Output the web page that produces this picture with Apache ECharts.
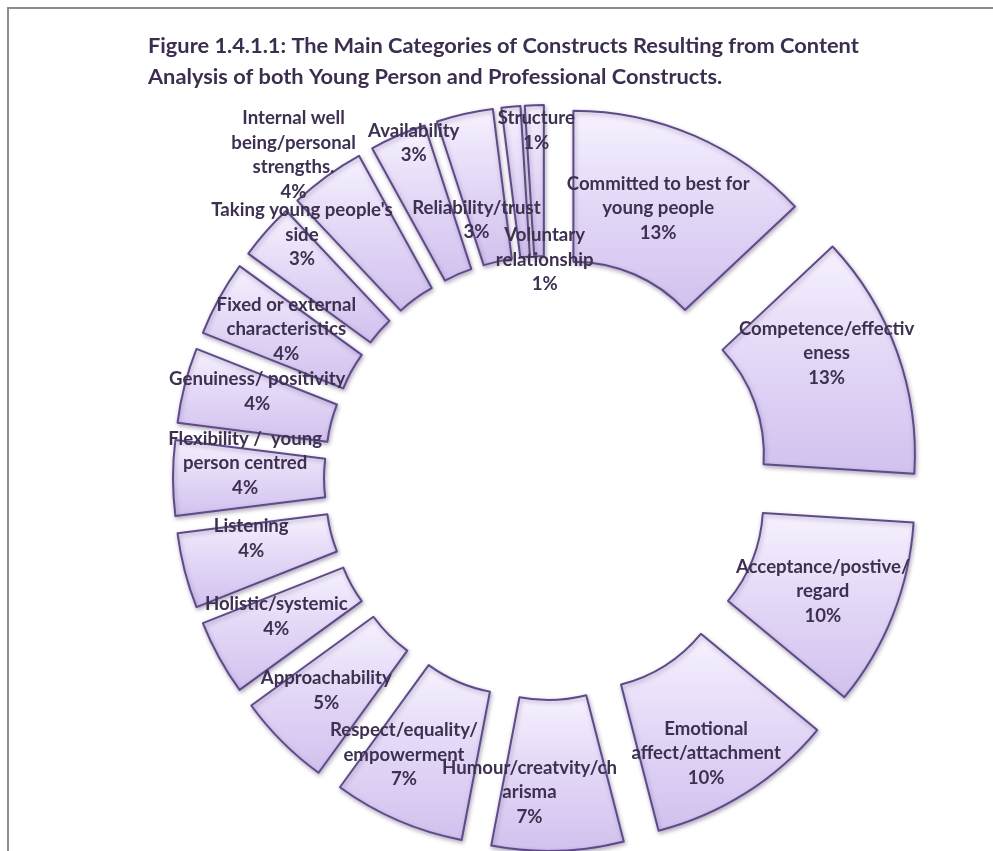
<!DOCTYPE html>
<html>
<head>
<meta charset="utf-8">
<title>Main Categories of Constructs</title>
<script src="https://cdn.jsdelivr.net/npm/echarts@6/dist/echarts.min.js"></script>
<style>
  html, body { margin: 0; padding: 0; background: #ffffff; }
  #chart { width: 993px; height: 851px; }
</style>
</head>
<body>
<div id="chart"></div>
<script>
// Construct categories, clockwise from 12 o'clock (label text as wrapped on the slices)
const categories = [
  'Committed to best for\nyoung people',
  'Competence/effectiv\neness',
  'Acceptance/postive/\nregard',
  'Emotional\naffect/attachment',
  'Humour/creatvity/ch\narisma',
  'Respect/equality/\nempowerment',
  'Approachability',
  'Holistic/systemic',
  'Listening',
  'Flexibility /  young\nperson centred',
  'Genuiness/ positivity',
  'Fixed or external\ncharacteristics',
  "Taking young people's\nside",
  'Internal well\nbeing/personal\nstrengths.',
  'Availability',
  'Reliability/trust',
  'Voluntary\nrelationship',
  'Structure'
];

// Share of constructs in each category (%)
const shares = [13, 13, 10, 10, 7, 7, 5, 4, 4, 4, 4, 4, 3, 4, 3, 3, 1, 1];

// Label nudges (dx, dy) away from the default in-ring label spot
const labelNudge = {
  0: [-26, -2],
  1: [8, -7],
  2: [2, -14],
  3: [-13, 21],
  4: [-28, 19],
  5: [-11, 2],
  6: [-3, -4],
  7: [-6, -12],
  8: [-6, -22],
  9: [-4, -15],
  10: [0, -4],
  11: [4, 2],
  12: [-17, -42],
  13: [-71, -78],
  14: [-8, -60],
  15: [2, 33],
  16: [29, 78],
  17: [2, -50]
};

const titleText = 'Figure 1.4.1.1: The Main Categories of Constructs Resulting from Content\n' +
                  'Analysis of both Young Person and Professional Constructs.';

const sliceFill = {
  type: 'linear', x: 0, y: 0, x2: 0, y2: 1,
  colorStops: [
    { offset: 0, color: '#f7f2fe' },
    { offset: 0.45, color: '#e4d9f7' },
    { offset: 1, color: '#d1c1ee' }
  ]
};

const sliceStyle = {
  color: sliceFill,
  borderColor: '#5f4a8a',
  borderWidth: 2,
  shadowBlur: 4,
  shadowOffsetX: 1,
  shadowOffsetY: 2,
  shadowColor: 'rgba(60, 40, 90, 0.35)'
};

const labelStyle = {
  show: true,
  position: 'inside',
  formatter: '{b}\n{d}%',
  color: '#3d3050',
  fontFamily: 'Lato',
  fontWeight: 'bold',
  fontSize: 18.6,
  lineHeight: 24.5,
  align: 'center'
};

const chart = echarts.init(document.getElementById('chart'), null, { renderer: 'canvas' });

chart.setOption({
  backgroundColor: '#ffffff',
  animation: false,
  title: {
    text: titleText,
    left: 143,
    top: 25,
    textStyle: {
      fontFamily: 'Lato',
      fontWeight: 'bold',
      fontSize: 21.8,
      lineHeight: 31,
      color: '#3b2e4f'
    }
  },
  graphic: [{
    type: 'polyline',
    shape: { points: [[8, 851], [8, 8], [993, 8]] },
    style: { stroke: '#8c8c8c', lineWidth: 2, fill: null },
    silent: true
  }],
  series: [{
    type: 'pie',
    center: [546, 478],
    radius: [153, 304],
    startAngle: 90,
    clockwise: true,
    selectedMode: 'multiple',
    selectedOffset: 69,
    percentPrecision: 0,
    avoidLabelOverlap: false,
    labelLine: { show: false },
    itemStyle: sliceStyle,
    label: labelStyle,
    emphasis: { disabled: true },
    select: { itemStyle: sliceStyle, label: labelStyle },
    labelLayout: function (params) {
      const n = labelNudge[params.dataIndex];
      return n ? { dx: n[0], dy: n[1] } : {};
    },
    data: categories.map(function (name, i) {
      return { name: name, value: shares[i], selected: true };
    })
  }]
});
</script>
</body>
</html>
